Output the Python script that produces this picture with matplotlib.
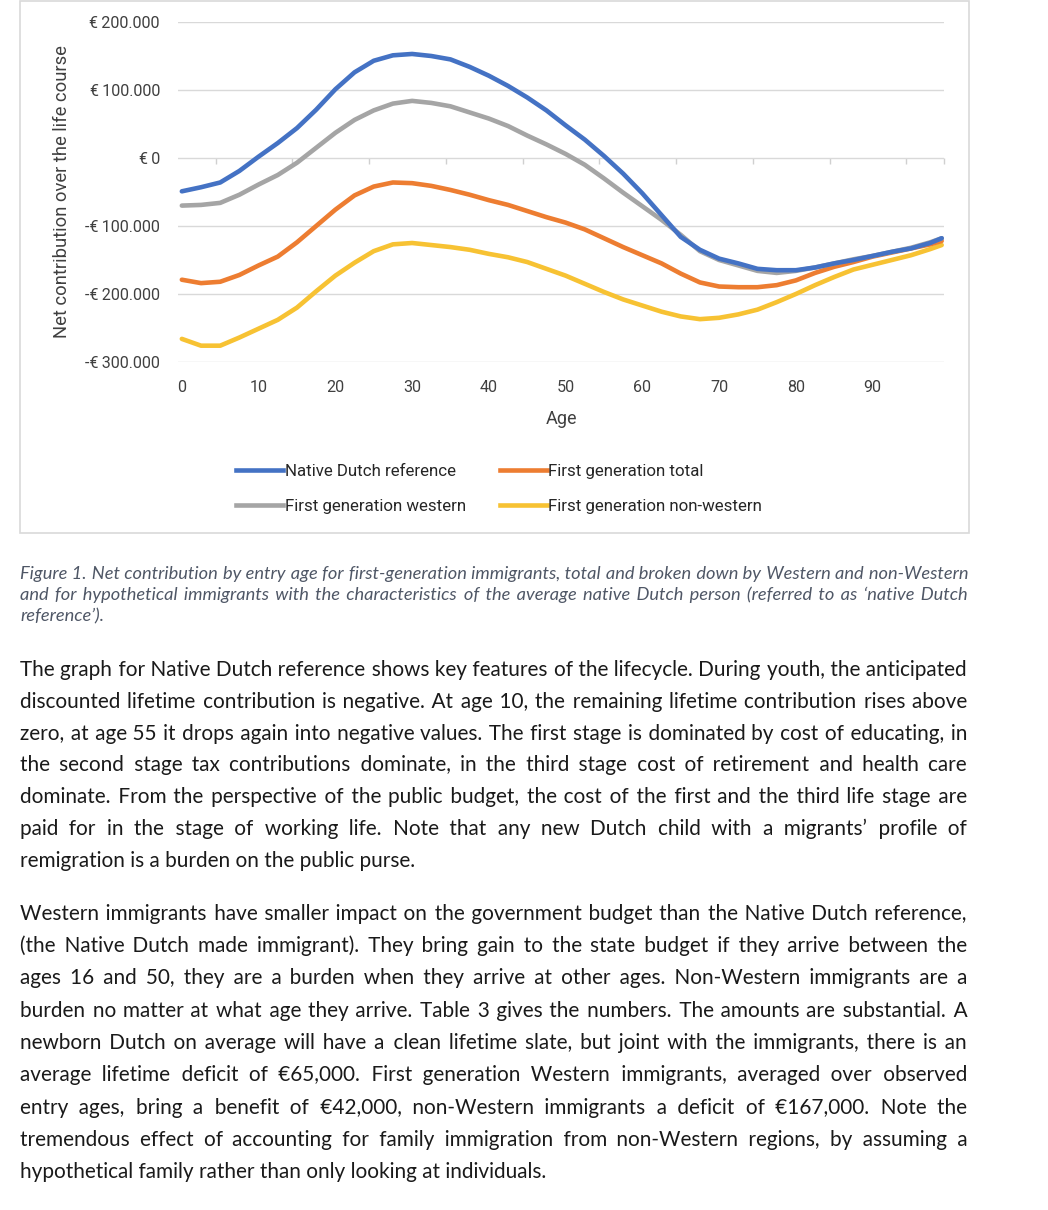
import matplotlib
matplotlib.use("Agg")
import matplotlib.pyplot as plt
from matplotlib.patches import Rectangle
from matplotlib.lines import Line2D
from matplotlib.ticker import FuncFormatter

# entry age (years) and net lifetime contribution (euro)
ages = [0, 2.5, 5, 7.5, 10, 12.5, 15, 17.5, 20, 22.5, 25, 27.5, 30, 32.5, 35, 37.5,
        40, 42.5, 45, 47.5, 50, 52.5, 55, 57.5, 60, 62.5, 65, 67.5, 70, 72.5, 75,
        77.5, 80, 82.5, 85, 87.5, 90, 92.5, 95, 97.5, 99]

native_dutch = [-49000, -43000, -36000, -19000, 2000, 22000, 44000, 71000, 101000,
                126000, 143000, 151000, 153000, 150000, 145000, 134000, 121000,
                106000, 89000, 70000, 48000, 27000, 3000, -23000, -52000, -84000,
                -116000, -135000, -148000, -155000, -163000, -165000, -165000,
                -161000, -155000, -150000, -144000, -138000, -133000, -125000, -118000]

first_gen_total = [-179000, -184000, -182000, -172000, -158000, -145000, -124000,
                   -100000, -76000, -55000, -42000, -36000, -37000, -41000, -47000,
                   -54000, -62000, -69000, -78000, -87000, -95000, -105000, -118000,
                   -131000, -143000, -155000, -170000, -183000, -189000, -190000,
                   -190000, -187000, -180000, -169000, -160000, -153000, -145000,
                   -139000, -133000, -127000, -122000]

first_gen_western = [-70000, -69000, -66000, -54000, -39000, -25000, -7000, 15000,
                     37000, 56000, 70000, 80000, 84000, 81000, 76000, 67000, 58000,
                     47000, 33000, 20000, 6000, -10000, -30000, -51000, -71000, -91000,
                     -113000, -137000, -150000, -158000, -166000, -169000, -166000,
                     -161000, -155000, -149000, -144000, -138000, -132000, -124000,
                     -118000]

first_gen_nonwestern = [-266000, -276000, -276000, -264000, -251000, -238000, -220000,
                        -196000, -173000, -154000, -137000, -127000, -125000, -128000,
                        -131000, -135000, -141000, -146000, -153000, -163000, -173000,
                        -185000, -197000, -208000, -217000, -226000, -233000, -237000,
                        -235000, -230000, -223000, -212000, -200000, -187000, -175000,
                        -164000, -157000, -150000, -143000, -134000, -128000]

series_labels = ["Native Dutch reference", "First generation western",
                 "First generation total", "First generation non-western"]
series_colors = ["#4472C4", "#A5A5A5", "#ED7D31", "#F7C233"]

x_ticks = [0, 10, 20, 30, 40, 50, 60, 70, 80, 90]
y_ticks = [-300000, -200000, -100000, 0, 100000, 200000]

caption_lines = [
    "Figure 1. Net contribution by entry age for first-generation immigrants, total and broken down by Western and non-Western",
    "and for hypothetical immigrants with the characteristics of the average native Dutch person (referred to as \u2018native Dutch",
    "reference\u2019).",
]

para1 = [
    "The graph for Native Dutch reference shows key features of the lifecycle. During youth, the anticipated",
    "discounted lifetime contribution is negative. At age 10, the remaining lifetime contribution rises above",
    "zero, at age 55 it drops again into negative values. The first stage is dominated by cost of educating, in",
    "the second stage tax contributions dominate, in the third stage cost of retirement and health care",
    "dominate. From the perspective of the public budget, the cost of the first and the third life stage are",
    "paid for in the stage of working life. Note that any new Dutch child with a migrants\u2019 profile of",
    "remigration is a burden on the public purse.",
]

para2 = [
    "Western immigrants have smaller impact on the government budget than the Native Dutch reference,",
    "(the Native Dutch made immigrant). They bring gain to the state budget if they arrive between the",
    "ages 16 and 50, they are a burden when they arrive at other ages. Non-Western immigrants are a",
    "burden no matter at what age they arrive. Table 3 gives the numbers. The amounts are substantial. A",
    "newborn Dutch on average will have a clean lifetime slate, but joint with the immigrants, there is an",
    "average lifetime deficit of \u20ac65,000. First generation Western immigrants, averaged over observed",
    "entry ages, bring a benefit of \u20ac42,000, non-Western immigrants a deficit of \u20ac167,000. Note the",
    "tremendous effect of accounting for family immigration from non-Western regions, by assuming a",
    "hypothetical family rather than only looking at individuals.",
]

W, H = 1048, 1210
CHART_FONT = ["Roboto", "DejaVu Sans"]
BODY_FONT = ["Lato", "DejaVu Sans"]


def fx(px):
    return px / W


def fy(py):
    return 1 - py / H


def euro(v, pos=None):
    if v == 0:
        return "\u20ac\u20090"
    s = "\u20ac\u2009" + f"{abs(v):,.0f}".replace(",", ".")
    return "-" + s if v < 0 else s


fig = plt.figure(figsize=(W / 100, H / 100), dpi=100)
fig.patch.set_facecolor("white")

# chart frame (Word chart area)
fig.add_artist(Rectangle((fx(20), fy(533)), fx(969) - fx(20), (533 - 1) / H,
                         transform=fig.transFigure, fill=False,
                         edgecolor="#d9d9d9", lw=1.2))

ax = fig.add_axes([fx(178), fy(362), fx(944) - fx(178), (362 - 22) / H])
series = [native_dutch, first_gen_western, first_gen_total, first_gen_nonwestern]
for i in [3, 2, 1, 0]:
    ax.plot(ages, series[i], color=series_colors[i], lw=3.3,
            solid_joinstyle="round", solid_capstyle="round", zorder=3 + (3 - i))

ax.set_xlim(-0.5, 99.3)
ax.set_ylim(-300000, 200000)
ax.set_yticks(y_ticks)
ax.yaxis.set_major_formatter(FuncFormatter(euro))
ax.set_xticks(x_ticks)
ax.grid(axis="y", color="#d9d9d9", lw=1.0)
ax.set_axisbelow(True)
for sp in ax.spines.values():
    sp.set_visible(False)
ax.tick_params(axis="y", length=0, pad=13, labelsize=11.6, labelcolor="#404040")
ax.tick_params(axis="x", length=0, pad=13, labelsize=11.6, labelcolor="#404040")
for lab in ax.get_xticklabels() + ax.get_yticklabels():
    lab.set_family(CHART_FONT)

ax.set_xlabel("Age", fontsize=13, color="#404040", family=CHART_FONT, labelpad=11)
ax.set_ylabel("Net contribution over the life course", fontsize=13.2,
              color="#404040", family=CHART_FONT)
ax.yaxis.set_label_coords(-0.1397, 0.5)

# small tick marks on the zero line
zero_axis = ax.secondary_xaxis(0.6)
zero_axis.set_xticks([4.4, 14.4, 24.4, 34.4, 44.4, 54.4, 64.4, 74.4, 84.4, 94.4, 99.3])
zero_axis.tick_params(direction="in", length=4, width=1, color="#d0d0d0",
                      labeltop=False, labelbottom=False)
for sp in zero_axis.spines.values():
    sp.set_visible(False)

handles = [Line2D([], [], color=c, lw=3.3) for c in series_colors]
leg = fig.legend(handles, series_labels, ncol=2, loc="center",
                 bbox_to_anchor=(fx(499), fy(489)), frameon=False,
                 handlelength=2.8, handletextpad=0.08, columnspacing=2.0,
                 labelspacing=1.15, borderpad=0,
                 prop={"family": CHART_FONT, "size": 12.2})
for t in leg.get_texts():
    t.set_color("#262626")

renderer = fig.canvas.get_renderer()


def text_width(s, size, **kw):
    t = fig.text(0, 0, s, fontsize=size, **kw)
    w = t.get_window_extent(renderer).width
    t.remove()
    return w


def fit_size(lines, base, x0, x1, **kw):
    widest = max(text_width(l, base, **kw) for l in lines)
    return base * min(1.0, (x1 - x0) / (widest * 1.005))


def justified(s, width, size, **kw):
    # widen the word gaps with hair spaces so the line fills the measure,
    # keeping one text object per line (one baseline)
    natural = text_width(s, size, **kw)
    ref = text_width("aa", size, **kw)
    unit_char, unit = " ", text_width("a a", size, **kw) - ref
    for ch in ["\u200a", "\u2006", "\u2009"]:
        u = text_width("a" + ch + "a", size, **kw) - ref
        if 0.3 < u < unit:
            unit_char, unit = ch, u
    words = s.split(" ")
    n = len(words) - 1
    extra = max(0.0, width - natural)
    out, used = words[0], 0
    for i in range(n):
        k = int(round(extra * (i + 1) / n / unit)) - used
        used += k
        out += " " + unit_char * k + words[i + 1]
    return out


def paragraph(lines, x0, x1, base0, step, size, **kw):
    for k, line in enumerate(lines):
        if k < len(lines) - 1:
            line = justified(line, x1 - x0, size, **kw)
        fig.text(fx(x0), fy(base0 + k * step), line, fontsize=size,
                 ha="left", va="baseline", **kw)


cap_kw = dict(family=BODY_FONT, style="italic", color="#4f5766")
cap_size = fit_size(caption_lines, 14, 20, 968, **cap_kw)
paragraph(caption_lines, 20, 968, 579, 21, cap_size, **cap_kw)

body_kw = dict(family=BODY_FONT, color="#1a1a1a")
body_size = fit_size(para1 + para2, 17, 20, 967, **body_kw)
paragraph(para1, 20, 967, 676, 31.8, body_size, **body_kw)
paragraph(para2, 20, 967, 920, 32.25, body_size, **body_kw)

fig.savefig("out.png", dpi=100, facecolor="white")
